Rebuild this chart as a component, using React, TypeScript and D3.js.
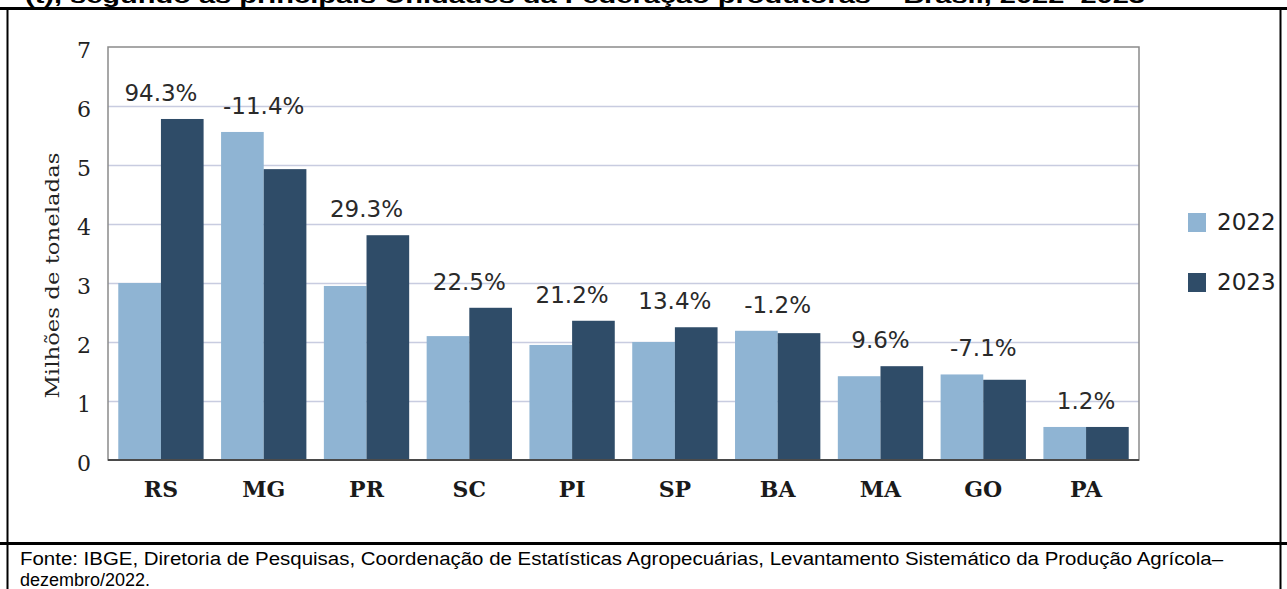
import React, { useEffect, useRef } from 'react'
import * as d3 from 'd3'

// dados (milhões de toneladas)
const states = ['RS', 'MG', 'PR', 'SC', 'PI', 'SP', 'BA', 'MA', 'GO', 'PA']
const values2022 = [3.0, 5.56, 2.95, 2.1, 1.95, 2.0, 2.19, 1.42, 1.45, 0.56]
const values2023 = [5.78, 4.93, 3.81, 2.58, 2.36, 2.25, 2.15, 1.59, 1.36, 0.56]
const changes = ['94.3%', '-11.4%', '29.3%', '22.5%', '21.2%', '13.4%', '-1.2%', '9.6%', '-7.1%', '1.2%']
const years = ['2022', '2023']
const yTicks = [0, 1, 2, 3, 4, 5, 6, 7]

const titleText = '(t), segundo as principais Unidades da Federação produtoras – Brasil, 2022–2023'
const sourceLine1 = 'Fonte: IBGE, Diretoria de Pesquisas, Coordenação de Estatísticas Agropecuárias, Levantamento Sistemático da Produção Agrícola–'
const sourceLine2 = 'dezembro/2022.'

const W = 1287
const H = 589
const colors = ['#8fb4d3', '#2f4c68']

const App = () => {
  const ref = useRef<SVGSVGElement>(null)

  useEffect(() => {
    const svg = d3.select(ref.current)
    svg.selectAll('*').remove()

    const left = 108, right = 1139, top = 47, bottom = 460

    const x = d3.scaleBand().domain(states).range([left, right]).paddingInner(0.17).paddingOuter(0.1)
    const xs = d3.scaleBand().domain(years).range([0, x.bandwidth()])
    const y = d3.scaleLinear().domain([0, 7]).range([bottom, top])

    // título (só a parte de baixo aparece, como no recorte original)
    svg.append('text')
      .attr('x', 25).attr('y', 3)
      .attr('font-family', 'Liberation Sans, Arial, sans-serif')
      .attr('font-weight', 'bold').attr('font-size', 20)
      .attr('textLength', 1120).attr('lengthAdjust', 'spacingAndGlyphs')
      .text(titleText)

    // moldura externa
    svg.append('line').attr('x1', 0).attr('x2', W).attr('y1', 8.5).attr('y2', 8.5).attr('stroke', '#000').attr('stroke-width', 3)
    svg.append('line').attr('x1', 0).attr('x2', W).attr('y1', 543.5).attr('y2', 543.5).attr('stroke', '#000').attr('stroke-width', 3)
    svg.append('line').attr('x1', 7.5).attr('x2', 7.5).attr('y1', 8).attr('y2', H).attr('stroke', '#000').attr('stroke-width', 2)
    svg.append('line').attr('x1', 1280.5).attr('x2', 1280.5).attr('y1', 8).attr('y2', H).attr('stroke', '#000').attr('stroke-width', 2)

    // grade
    svg.append('g')
      .selectAll('line')
      .data(yTicks.filter((t) => t > 0 && t < 7))
      .enter()
      .append('line')
      .attr('x1', left).attr('x2', right)
      .attr('y1', (d) => Math.round(y(d)) + 0.5).attr('y2', (d) => Math.round(y(d)) + 0.5)
      .attr('stroke', '#c8cce0').attr('stroke-width', 1.5)

    // barras
    const groups = svg.append('g')
      .selectAll('g')
      .data(states)
      .enter()
      .append('g')
      .attr('transform', (d) => `translate(${x(d)},0)`)

    const series = [values2022, values2023]
    groups.selectAll('rect')
      .data((d) => series.map((s, k) => ({ year: years[k], v: s[states.indexOf(d)], k })))
      .enter()
      .append('rect')
      .attr('x', (d) => xs(d.year)!)
      .attr('y', (d) => y(d.v))
      .attr('width', xs.bandwidth())
      .attr('height', (d) => bottom - y(d.v))
      .attr('fill', (d) => colors[d.k])

    // rótulos de variação
    svg.append('g')
      .selectAll('text')
      .data(states)
      .enter()
      .append('text')
      .attr('x', (d) => x(d)! + x.bandwidth() / 2)
      .attr('y', (d, i) => y(Math.max(values2022[i], values2023[i])) - 18)
      .attr('text-anchor', 'middle')
      .attr('font-family', 'DejaVu Sans, sans-serif')
      .attr('font-size', 23)
      .attr('fill', '#2a2a2a')
      .text((d, i) => changes[i])

    // bordas da área do gráfico
    svg.append('rect')
      .attr('x', left).attr('y', top).attr('width', right - left).attr('height', bottom - top)
      .attr('fill', 'none').attr('stroke', '#8a8a8a').attr('stroke-width', 1.5)
    svg.append('line').attr('x1', left).attr('x2', right).attr('y1', bottom).attr('y2', bottom)
      .attr('stroke', '#4a4a4a').attr('stroke-width', 2)

    // eixo y
    svg.append('g')
      .selectAll('text')
      .data(yTicks)
      .enter()
      .append('text')
      .attr('x', 84)
      .attr('y', (d) => y(d) + 11)
      .attr('text-anchor', 'middle')
      .attr('font-family', 'DejaVu Serif, serif')
      .attr('font-size', 22)
      .attr('fill', '#222')
      .text((d) => d)

    svg.append('text')
      .attr('transform', `translate(59, ${(top + bottom) / 2 + 22}) rotate(-90)`)
      .attr('text-anchor', 'middle')
      .attr('font-family', 'DejaVu Serif, serif')
      .attr('font-size', 19)
      .attr('fill', '#222')
      .attr('textLength', 246).attr('lengthAdjust', 'spacingAndGlyphs')
      .text('Milhões de toneladas')

    // eixo x
    svg.append('g')
      .selectAll('text')
      .data(states)
      .enter()
      .append('text')
      .attr('x', (d) => x(d)! + x.bandwidth() / 2)
      .attr('y', 497)
      .attr('text-anchor', 'middle')
      .attr('font-family', 'DejaVu Serif, serif')
      .attr('font-weight', 'bold')
      .attr('font-size', 22)
      .attr('fill', '#1a1a1a')
      .text((d) => d)

    // legenda
    const legend = svg.append('g')
      .selectAll('g')
      .data(years)
      .enter()
      .append('g')
      .attr('transform', (d, i) => `translate(1188, ${213 + i * 60})`)
    legend.append('rect').attr('width', 18).attr('height', 19).attr('fill', (d, i) => colors[i])
    legend.append('text')
      .attr('x', 29).attr('y', 17)
      .attr('font-family', 'DejaVu Sans, sans-serif')
      .attr('font-size', 23)
      .attr('fill', '#222')
      .text((d) => d)

    // fonte
    svg.append('text')
      .attr('x', 20).attr('y', 565)
      .attr('font-family', 'Liberation Sans, Arial, sans-serif')
      .attr('font-size', 18)
      .attr('textLength', 1203).attr('lengthAdjust', 'spacingAndGlyphs')
      .text(sourceLine1)
    svg.append('text')
      .attr('x', 20).attr('y', 586)
      .attr('font-family', 'Liberation Sans, Arial, sans-serif')
      .attr('font-size', 18)
      .text(sourceLine2)
  }, [])

  return (
    <svg
      ref={ref}
      width={W}
      height={H}
      style={{ position: 'absolute', left: 0, top: 0, background: '#fff' }}
    />
  )
}

export default App
